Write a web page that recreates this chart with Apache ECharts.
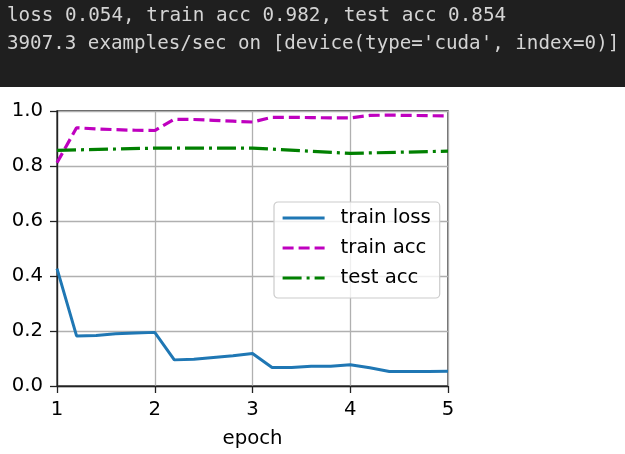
<!DOCTYPE html>
<html>
<head>
<meta charset="utf-8">
<script src="https://cdn.jsdelivr.net/npm/echarts@6/dist/echarts.min.js"></script>
<style>
html,body{margin:0;padding:0;background:#fff;}
#chart{width:625px;height:454px;}
</style>
</head>
<body>
<div id="chart"></div>
<script>
var headerLines = ["loss 0.054, train acc 0.982, test acc 0.854",
                   "3907.3 examples/sec on [device(type='cuda', index=0)]"];
var lossX = [1.0,1.2,1.4,1.6,1.8,2.0,2.2,2.4,2.6,2.8,3.0,3.2,3.4,3.6,3.8,4.0,4.2,4.4,4.6,4.8,5.0];
var trainLoss = [0.427,0.182,0.184,0.190,0.193,0.195,0.095,0.097,0.104,0.110,0.118,0.067,0.067,0.072,0.072,0.077,0.066,0.053,0.053,0.053,0.054];
var trainAcc = [0.812,0.939,0.935,0.932,0.930,0.929,0.970,0.969,0.966,0.963,0.960,0.977,0.977,0.976,0.975,0.975,0.984,0.985,0.984,0.983,0.982];
var testX = [1,2,3,4,5];
var testAcc = [0.857,0.865,0.865,0.846,0.854];
var seriesNames = ["train loss","train acc","test acc"];
var xName = "epoch";

function pairs(xs, ys){ return xs.map(function(x,i){ return [x, ys[i]]; }); }

var FONT = "DejaVu Sans";
var FS = 19.7;
var chart = echarts.init(document.getElementById('chart'), null, {renderer:'canvas'});
chart.setOption({
  animation:false,
  backgroundColor:'#ffffff',
  graphic:[
    {type:'rect', left:0, top:0, shape:{width:625, height:87}, style:{fill:'#1f1f1f'}, z:-1},
    {type:'text', left:7, top:6, style:{text:headerLines[0], fill:'#d4d4d4', font:'19.3px "DejaVu Sans Mono"'}},
    {type:'text', left:7, top:35, style:{text:headerLines[1], fill:'#d4d4d4', font:'19.2px "DejaVu Sans Mono"'}}
  ],
  grid:{left:57, right:177, top:111, bottom:66, show:true, borderColor:'#222', borderWidth:1.3, backgroundColor:'transparent'},
  legend:{
    orient:'vertical', left:274, top:202,
    padding:[6,9,10,7], itemWidth:42, itemHeight:18, itemGap:10,
    backgroundColor:'rgba(255,255,255,0.8)', borderColor:'#cccccc', borderWidth:1.2, borderRadius:4,
    itemStyle:{opacity:0},
    lineStyle:{width:'inherit', type:'inherit'},
    textStyle:{fontFamily:FONT, fontSize:FS, color:'#000', padding:[0,0,0,11]},
    data:seriesNames
  },
  xAxis:{
    type:'value', min:1, max:5, interval:1,
    name:xName, nameLocation:'middle', nameGap:43,
    nameTextStyle:{fontFamily:FONT, fontSize:FS, color:'#000'},
    axisLine:{show:true, onZero:false, lineStyle:{color:'#222', width:1.3}},
    axisTick:{show:true, length:7, lineStyle:{color:'#222', width:1.3}},
    axisLabel:{fontFamily:FONT, fontSize:FS, color:'#000', margin:14},
    splitLine:{show:true, lineStyle:{color:'#b0b0b0', width:1.3}}
  },
  yAxis:{
    type:'value', min:0, max:1, interval:0.2,
    axisLine:{show:true, lineStyle:{color:'#222', width:1.3}},
    axisTick:{show:true, length:7, lineStyle:{color:'#222', width:1.3}},
    axisLabel:{fontFamily:FONT, fontSize:FS, color:'#000', margin:14, formatter:function(v){return v.toFixed(1);}},
    splitLine:{show:true, lineStyle:{color:'#b0b0b0', width:1.3}}
  },
  series:[
    {name:seriesNames[0], type:'line', data:pairs(lossX, trainLoss), symbol:'none', color:'#1f77b4',
     lineStyle:{color:'#1f77b4', width:3}},
    {name:seriesNames[1], type:'line', data:pairs(lossX, trainAcc), symbol:'none', color:'#bf00bf',
     lineStyle:{color:'#bf00bf', width:3.2, type:[11,5]}},
    {name:seriesNames[2], type:'line', data:pairs(testX, testAcc), symbol:'none', color:'#008000',
     lineStyle:{color:'#008000', width:3.2, type:[19,5,3,5]}}
  ]
});
</script>
</body>
</html>
